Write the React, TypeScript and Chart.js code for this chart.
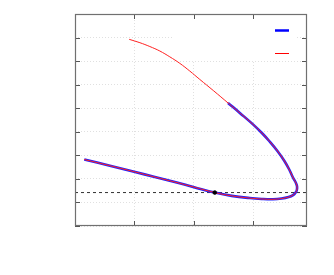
import React, { useEffect, useRef } from "react";
import { Chart, registerables } from "chart.js";

Chart.register(...registerables);

const xTickValues = [0, 1, 2, 3];
const yTickValues = [0, 1, 2, 3, 4, 5, 6, 7, 8, 9];
const xMin = 0;
const xMax = 3.9;
const yMin = 0;
const yMax = 9;

// full branch (red, thin)
const redX = [0.911, 1.091, 1.258, 1.426, 1.594, 1.762, 1.93, 2.097, 2.332, 2.572, 2.785, 2.992, 3.138, 3.272, 3.406, 3.523, 3.607, 3.666, 3.716, 3.733, 3.728, 3.708, 3.666, 3.591, 3.473, 3.327, 3.138, 2.936, 2.634, 2.349, 2.002, 1.678, 1.342, 0.995, 0.587, 0.156];
const redY = [7.925, 7.781, 7.619, 7.428, 7.181, 6.905, 6.577, 6.224, 5.736, 5.225, 4.77, 4.315, 3.958, 3.588, 3.176, 2.751, 2.368, 2.049, 1.815, 1.667, 1.518, 1.42, 1.314, 1.229, 1.165, 1.135, 1.148, 1.186, 1.28, 1.42, 1.65, 1.866, 2.079, 2.304, 2.56, 2.823];
// stable part (blue, thick)
const blueX = [2.572, 2.785, 2.992, 3.138, 3.272, 3.406, 3.523, 3.607, 3.666, 3.716, 3.733, 3.728, 3.708, 3.666, 3.591, 3.473, 3.327, 3.138, 2.936, 2.634, 2.349, 2.002, 1.678, 1.342, 0.995, 0.587, 0.156];
const blueY = [5.225, 4.77, 4.315, 3.958, 3.588, 3.176, 2.751, 2.368, 2.049, 1.815, 1.667, 1.518, 1.42, 1.314, 1.229, 1.165, 1.135, 1.148, 1.186, 1.28, 1.42, 1.65, 1.866, 2.079, 2.304, 2.56, 2.823];

const thresholdY = 1.42;
const markerX = [2.349];
const markerY = [1.42];

const toPts = (xs: number[], ys: number[]) => xs.map((x, i) => ({ x, y: ys[i] }));

const framePlugin = {
  id: "frame",
  beforeDatasetsDraw(chart: any) {
    const { ctx, chartArea } = chart;
    ctx.save();
    ctx.fillStyle = "#ffffff";
    ctx.fillRect(chartArea.left + 98, chartArea.top, chartArea.right - chartArea.left - 108, 46);
    ctx.restore();
  },
  afterDraw(chart: any) {
    const { ctx, chartArea } = chart;
    const { left, right, top, bottom } = chartArea;
    const xs = chart.scales.x;
    const ys = chart.scales.y;
    ctx.save();
    // legend samples
    ctx.strokeStyle = "#0000ff";
    ctx.lineWidth = 2.5;
    ctx.beginPath();
    ctx.moveTo(right - 32, top + 16.5);
    ctx.lineTo(right - 18, top + 16.5);
    ctx.stroke();
    ctx.strokeStyle = "#ff0000";
    ctx.lineWidth = 1;
    ctx.beginPath();
    ctx.moveTo(right - 32, top + 39.5);
    ctx.lineTo(right - 18, top + 39.5);
    ctx.stroke();
    // ticks
    ctx.strokeStyle = "#555555";
    ctx.lineWidth = 1;
    const tl = 5;
    ctx.beginPath();
    xTickValues.forEach((v) => {
      const px = Math.round(xs.getPixelForValue(v)) + 0.5;
      ctx.moveTo(px, bottom);
      ctx.lineTo(px, bottom - tl);
      ctx.moveTo(px, top);
      ctx.lineTo(px, top + tl);
    });
    yTickValues.forEach((v) => {
      const py = Math.round(ys.getPixelForValue(v)) + 0.5;
      ctx.moveTo(left, py);
      ctx.lineTo(left + tl, py);
      ctx.moveTo(right, py);
      ctx.lineTo(right - tl, py);
    });
    ctx.stroke();
    // border
    ctx.strokeStyle = "#707070";
    ctx.lineWidth = 1.2;
    ctx.strokeRect(left + 0.5, top + 0.5, right - left - 1, bottom - top - 1);
    ctx.restore();
  },
};

export default function App() {
  const ref = useRef<HTMLCanvasElement | null>(null);
  useEffect(() => {
    if (!ref.current) return;
    const chart = new Chart(ref.current, {
      type: "scatter",
      data: {
        datasets: [
          {
            data: toPts(markerX, markerY),
            backgroundColor: "#000000",
            borderColor: "#000000",
            pointRadius: 1.8,
            showLine: false,
            order: 0,
          },
          {
            data: toPts(redX, redY),
            borderColor: "#ff2020",
            borderWidth: 1,
            pointRadius: 0,
            showLine: true,
            tension: 0.4,
            order: 1,
          },
          {
            data: toPts(blueX, blueY),
            borderColor: "#2020ff",
            borderWidth: 2.6,
            pointRadius: 0,
            showLine: true,
            tension: 0.4,
            order: 2,
          },
          {
            data: [
              { x: xMin, y: thresholdY },
              { x: xMax, y: thresholdY },
            ],
            borderColor: "#333333",
            borderWidth: 1,
            borderDash: [3, 3],
            pointRadius: 0,
            showLine: true,
            order: 3,
          } as any,
        ],
      },
      options: {
        animation: false,
        responsive: false,
        maintainAspectRatio: false,
        layout: { padding: { left: 75, right: 27, top: 14, bottom: 49 } },
        plugins: { legend: { display: false }, tooltip: { enabled: false } },
        scales: {
          x: {
            type: "linear",
            min: xMin,
            max: xMax,
            afterBuildTicks: (s: any) => {
              s.ticks = xTickValues.map((v) => ({ value: v }));
            },
            ticks: { display: false },
            grid: { color: "#e0e0e0", lineWidth: 1, drawTicks: false },
            border: { display: false, dash: [1, 2] },
          },
          y: {
            type: "linear",
            min: yMin,
            max: yMax,
            afterBuildTicks: (s: any) => {
              s.ticks = yTickValues.map((v) => ({ value: v }));
            },
            ticks: { display: false },
            grid: { color: "#e0e0e0", lineWidth: 1, drawTicks: false },
            border: { display: false, dash: [1, 2] },
          },
        },
      },
      plugins: [framePlugin],
    });
    return () => chart.destroy();
  }, []);
  return (
    <div style={{ position: "fixed", left: 0, top: 0, width: 334, height: 275, background: "#fff" }}>
      <canvas ref={ref} width={334} height={275} style={{ display: "block" }} />
    </div>
  );
}
